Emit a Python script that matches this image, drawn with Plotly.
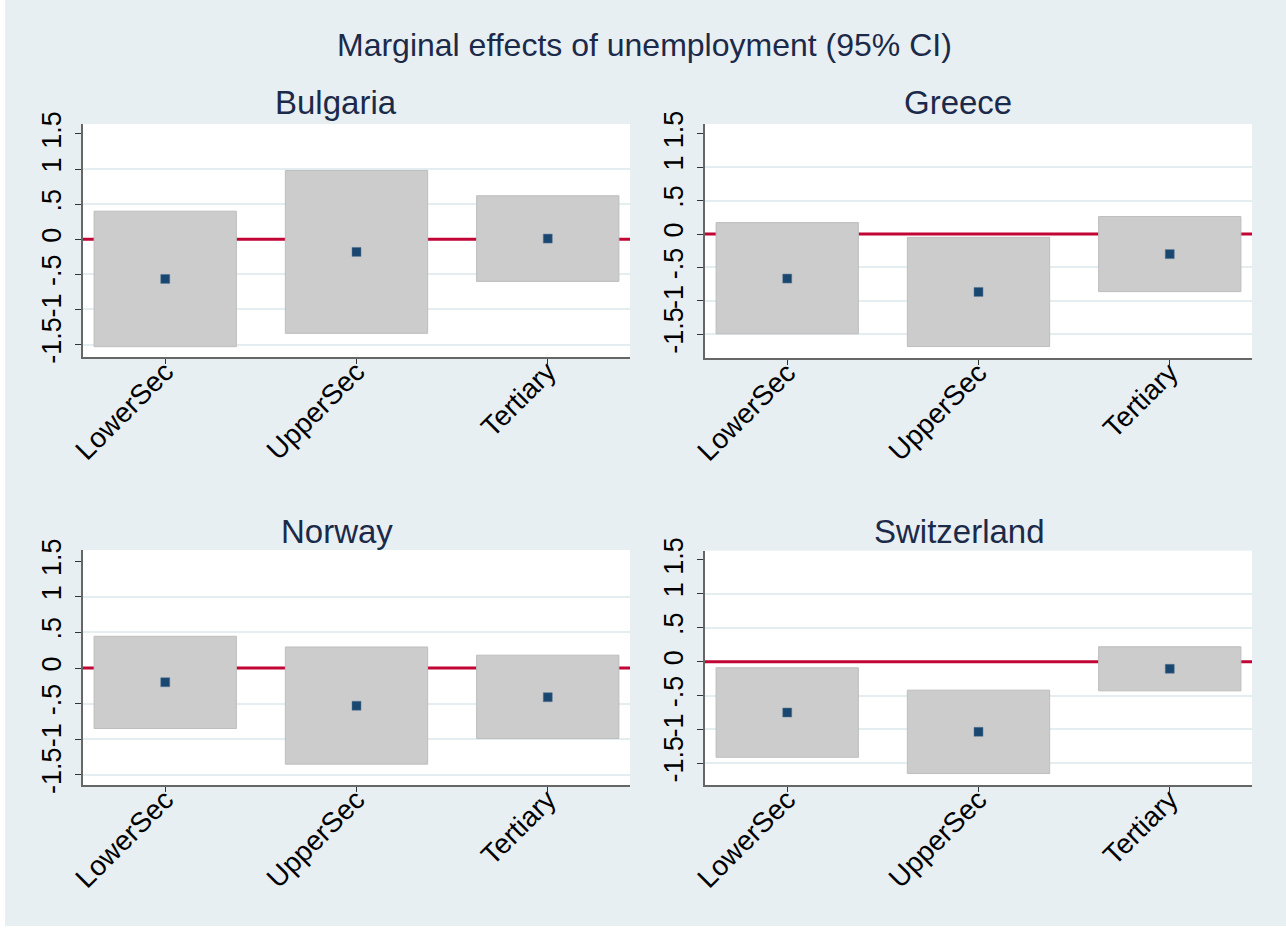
import plotly.graph_objects as go

# ---------------- data ----------------
categories = ["LowerSec", "UpperSec", "Tertiary"]
cat_pos = [1, 2, 3]
countries = ["Bulgaria", "Greece", "Norway", "Switzerland"]

bulgaria_effect = [-0.565, -0.18, 0.01]
bulgaria_lower = [-1.53, -1.34, -0.60]
bulgaria_upper = [0.40, 0.98, 0.62]

greece_effect = [-0.665, -0.865, -0.30]
greece_lower = [-1.49, -1.68, -0.86]
greece_upper = [0.17, -0.05, 0.26]

norway_effect = [-0.20, -0.53, -0.41]
norway_lower = [-0.85, -1.35, -0.99]
norway_upper = [0.445, 0.295, 0.18]

switzerland_effect = [-0.75, -1.035, -0.105]
switzerland_lower = [-1.41, -1.65, -0.43]
switzerland_upper = [-0.09, -0.42, 0.22]

y_tick_vals = [-1.5, -1, -0.5, 0, 0.5, 1, 1.5]
y_tick_text = ["-1.5", "-1", "-.5", "0", ".5", "1", "1.5"]
grid_vals = [-1.5, -1, -0.5, 0.5, 1]

title_text = "Marginal effects of unemployment (95% CI)"

# --------------- styling ---------------
W, H = 1286, 933
BG = "#e8eff2"
NAVY = "#1a476f"
TITLE_COL = "#1c2a4a"
RED = "#c10534"
BOX = "#cccccc"
BOX_LINE = "#bdbdbd"
GRID = "#e4edf0"
FONT = "Liberation Sans, Arial, sans-serif"

data_sets = {
    "Bulgaria": (bulgaria_effect, bulgaria_lower, bulgaria_upper),
    "Greece": (greece_effect, greece_lower, greece_upper),
    "Norway": (norway_effect, norway_lower, norway_upper),
    "Switzerland": (switzerland_effect, switzerland_lower, switzerland_upper),
}

# pixel layout of each plot region (left, right, top, bottom) and y range
panels = {
    "Bulgaria": dict(px=(83, 630), py=(124, 357), yr=(-1.677, 1.642), tx=336, ty=103),
    "Greece": dict(px=(705, 1252), py=(124, 358), yr=(-1.851, 1.642), tx=958, ty=103),
    "Norway": dict(px=(83, 630), py=(550, 785), yr=(-1.643, 1.657), tx=337, ty=531),
    "Switzerland": dict(px=(705, 1252), py=(550.7, 785), yr=(-1.819, 1.637), tx=959, ty=531),
}

fig = go.Figure()
layout = dict(
    template="none",
    width=W, height=H,
    margin=dict(l=0, r=0, t=0, b=0, pad=0, autoexpand=False),
    paper_bgcolor=BG,
    plot_bgcolor="white",
    showlegend=False,
    barmode="overlay",
    font=dict(family=FONT, color="black"),
)
shapes = []
annotations = []

for i, c in enumerate(countries):
    n = "" if i == 0 else str(i + 1)
    xa, ya = "x" + n, "y" + n
    eff, lo, up = data_sets[c]
    p = panels[c]
    heights = [u - l for u, l in zip(up, lo)]

    fig.add_trace(go.Bar(
        x=cat_pos, y=heights, base=lo, width=0.744,
        marker=dict(color=BOX, line=dict(color=BOX_LINE, width=1)),
        xaxis=xa, yaxis=ya, hoverinfo="skip",
    ))
    fig.add_trace(go.Scatter(
        x=cat_pos, y=eff, mode="markers",
        marker=dict(symbol="square", size=9, color=NAVY,
                    line=dict(color="#5a7a99", width=0.5)),
        xaxis=xa, yaxis=ya,
    ))

    xd = [p["px"][0] / W, p["px"][1] / W]
    yd = [1 - p["py"][1] / H, 1 - p["py"][0] / H]
    layout["xaxis" + n] = dict(
        domain=xd, anchor=ya, range=[0.57, 3.43], automargin=False,
        tickvals=cat_pos, ticktext=categories, tickangle=-45,
        ticks="outside", ticklen=5, tickcolor="#333", tickwidth=1,
        ticklabelstandoff=-20,
        showline=True, linecolor="#666", linewidth=2,
        showgrid=False, zeroline=False,
        tickfont=dict(size=28, family=FONT, color="black"),
        fixedrange=True,
    )
    layout["yaxis" + n] = dict(
        domain=yd, anchor=xa, range=list(p["yr"]), automargin=False,
        tickvals=y_tick_vals, ticktext=y_tick_text, tickangle=-90,
        ticks="outside", ticklen=6, tickcolor="#333", tickwidth=1,
        ticklabelstandoff=3,
        showline=True, linecolor="#666", linewidth=2,
        showgrid=False, zeroline=False,
        minor=dict(tickvals=grid_vals, showgrid=True, gridcolor=GRID,
                   gridwidth=1.5, ticks=""),
        tickfont=dict(size=27, family=FONT, color="black"),
        fixedrange=True,
    )
    shapes.append(dict(
        type="line", xref=xa + " domain", yref=ya,
        x0=0, x1=1, y0=0, y1=0,
        line=dict(color=RED, width=3), layer="below",
    ))
    annotations.append(dict(
        text=c, xref="paper", yref="paper",
        x=p["tx"] / W, y=1 - p["ty"] / H,
        xanchor="center", yanchor="middle", showarrow=False,
        font=dict(size=33, family=FONT, color=TITLE_COL),
    ))

annotations.append(dict(
    text=title_text, xref="paper", yref="paper",
    x=644 / W, y=1 - 45 / H, xanchor="center", yanchor="middle",
    showarrow=False, font=dict(size=32, family=FONT, color=TITLE_COL),
))

# thin white strips at the left and bottom edges of the picture
shapes.append(dict(type="rect", xref="paper", yref="paper",
                   x0=0, x1=5 / W, y0=0, y1=1,
                   fillcolor="white", line=dict(width=0), layer="below"))
shapes.append(dict(type="rect", xref="paper", yref="paper",
                   x0=0, x1=1, y0=0, y1=7 / H,
                   fillcolor="white", line=dict(width=0), layer="below"))

layout["shapes"] = shapes
layout["annotations"] = annotations
fig.update_layout(**layout)

fig.write_html(
    "out.html",
    config={"displayModeBar": False},
    post_script="document.body.style.margin='0';document.body.style.overflow='hidden';",
)
